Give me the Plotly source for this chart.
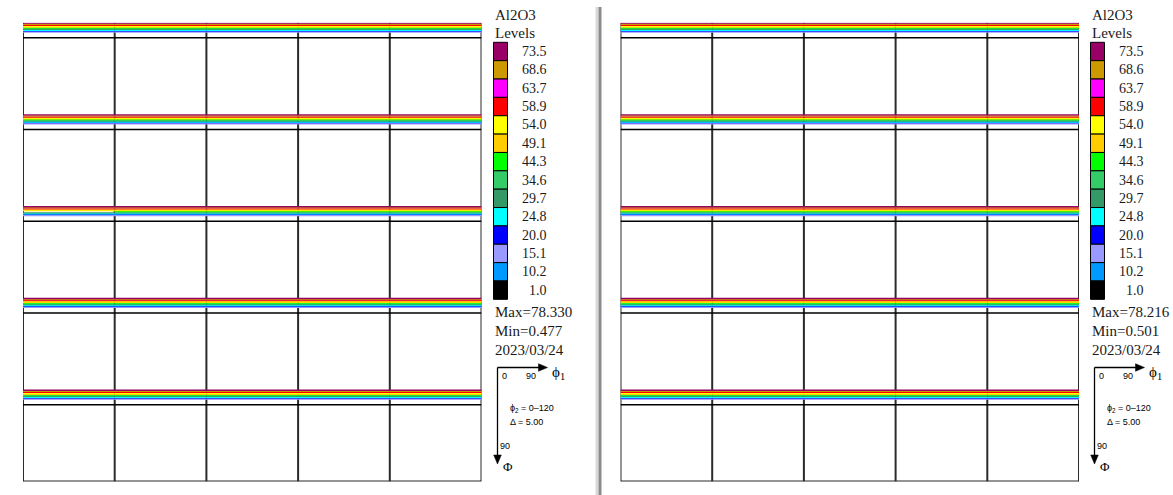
import plotly.graph_objects as go

W, H = 1173, 495

# ODF contour levels (legend order, highest first) and their colours
levels = [73.5, 68.6, 63.7, 58.9, 54.0, 49.1, 44.3, 34.6, 29.7, 24.8, 20.0, 15.1, 10.2, 1.0]
level_colors = ["#990066", "#CC9900", "#FF00FF", "#FF0000", "#FFFF00", "#FFCC00", "#00FF00",
                "#33CC66", "#339966", "#00FFFF", "#0000FF", "#9999FF", "#0099FF", "#000000"]

# Phi (deg) of each level's iso-line inside a section (same order as levels)
contour_phi = [0.5, 1.5, 1.6, 2.6, 3.6, 4.4, 5.1, 5.8, 6.5, 7.4, 7.9, 9.1, 8.6, 14.8]

# phi2 sections: 0-120 in steps of 5 -> 25 sections laid out 5 x 5
phi2_sections = list(range(0, 125, 5))
n_cols = 5
phi1_span = 90.0
Phi_span = 90.0

# levels that do not appear in a given section (panel index, phi2) -> level values
absent_levels = {(0, 50): [44.3, 34.6]}

panel_titles = ["Al2O3", "Al2O3"]
panel_max = ["Max=78.330", "Max=78.216"]
panel_min = ["Min=0.477", "Min=0.501"]
panel_date = ["2023/03/24", "2023/03/24"]


def px(x):
    return x / W


def py(y):
    return 1 - y / H


def ppath(points):
    return "M " + " L ".join(f"{px(a):.6f},{py(b):.6f}" for a, b in points) + " Z"


fig = go.Figure()
shapes = []
annotations = []

serif = "Liberation Serif"
sans = "Liberation Sans"

for p in range(2):
    dx = 597 * p
    xa = "x" if p == 0 else "x2"
    ya = "y" if p == 0 else "y2"
    n_rows = len(phi2_sections) // n_cols
    total_w = n_cols * phi1_span
    total_h = n_rows * Phi_span

    # contour iso-lines, one trace per level
    for li in reversed(range(len(levels))):
        xs, ys = [], []
        for k, phi2 in enumerate(phi2_sections):
            if levels[li] in absent_levels.get((p, phi2), []):
                continue
            c, r = k % n_cols, k // n_cols
            yv = r * Phi_span + contour_phi[li]
            xs += [c * phi1_span, (c + 1) * phi1_span, None]
            ys += [yv, yv, None]
        fig.add_trace(go.Scatter(
            x=xs, y=ys, mode="lines", xaxis=xa, yaxis=ya,
            line=dict(color=level_colors[li], width=1.5 if levels[li] == 1.0 else 1.3),
            hoverinfo="skip", showlegend=False))

    # section frames (section tops are covered by the highest iso-line)
    for c in range(n_cols + 1):
        shapes.append(dict(type="line", xref=xa, yref=ya, x0=c * phi1_span, x1=c * phi1_span,
                           y0=0, y1=total_h, line=dict(color="#2b2b2b", width=2), layer="below"))
    shapes.append(dict(type="line", xref=xa, yref=ya, x0=0, x1=total_w, y0=total_h, y1=total_h,
                       line=dict(color="#2b2b2b", width=2), layer="below"))

    # level legend
    box_top, box_h = 42.3, 18.36
    for i, (lv, col) in enumerate(zip(levels, level_colors)):
        y0 = box_top + i * box_h
        shapes.append(dict(type="rect", xref="paper", yref="paper",
                           x0=px(493.5 + dx), x1=px(507.5 + dx), y0=py(y0), y1=py(y0 + box_h),
                           fillcolor=col, line=dict(color="black", width=1)))
        annotations.append(dict(xref="paper", yref="paper", x=px(549 + dx), y=py(y0 + box_h / 2),
                                text=f"{lv:.1f}", showarrow=False, xanchor="right", yanchor="middle",
                                font=dict(family=serif, size=14, color="#1a1a1a")))

    for txt, yc in [(panel_titles[p], 15), ("Levels", 33), (panel_max[p], 312),
                    (panel_min[p], 331), (panel_date[p], 350)]:
        annotations.append(dict(xref="paper", yref="paper", x=px(493 + dx), y=py(yc),
                                text=txt, showarrow=False, xanchor="left", yanchor="middle",
                                font=dict(family=serif, size=15, color="#1a1a1a")))

    # orientation key: phi1 to the right, Phi downwards
    ox, oy = 497.5 + dx, 367.5
    shapes.append(dict(type="line", xref="paper", yref="paper", x0=px(ox), x1=px(ox + 44),
                       y0=py(oy), y1=py(oy), line=dict(color="black", width=1.3)))
    shapes.append(dict(type="path", xref="paper", yref="paper",
                       path=ppath([(ox + 50, oy), (ox + 41, oy - 3.8), (ox + 41, oy + 3.8)]),
                       fillcolor="black", line=dict(color="black", width=0.5)))
    shapes.append(dict(type="line", xref="paper", yref="paper", x0=px(ox), x1=px(ox),
                       y0=py(oy), y1=py(458), line=dict(color="black", width=1.3)))
    shapes.append(dict(type="path", xref="paper", yref="paper",
                       path=ppath([(ox, 464), (ox - 3.8, 455), (ox + 3.8, 455)]),
                       fillcolor="black", line=dict(color="black", width=0.5)))
    small = [("0", 504, 376), ("90", 531, 376), ("90", 505, 446)]
    for txt, xc, yc in small:
        annotations.append(dict(xref="paper", yref="paper", x=px(xc + dx), y=py(yc), text=txt,
                                showarrow=False, xanchor="center", yanchor="middle",
                                font=dict(family=sans, size=9, color="black")))
    annotations.append(dict(xref="paper", yref="paper", x=px(550 + dx), y=py(373),
                            text="ϕ<sub>1</sub>", showarrow=False, xanchor="left", yanchor="middle",
                            font=dict(family=serif, size=15, color="black")))
    annotations.append(dict(xref="paper", yref="paper", x=px(501 + dx), y=py(466),
                            text="Φ", showarrow=False, xanchor="left", yanchor="middle",
                            font=dict(family=serif, size=13, color="black")))
    annotations.append(dict(xref="paper", yref="paper", x=px(508 + dx), y=py(408),
                            text="ϕ<sub>2</sub> = 0–120", showarrow=False, xanchor="left",
                            yanchor="middle", font=dict(family=sans, size=9, color="black")))
    annotations.append(dict(xref="paper", yref="paper", x=px(508 + dx), y=py(422),
                            text="Δ = 5.00", showarrow=False, xanchor="left",
                            yanchor="middle", font=dict(family=sans, size=9, color="black")))

# window separator between the two plots
shapes.append(dict(type="rect", xref="paper", yref="paper", x0=px(595.5), x1=px(598.5),
                   y0=py(495), y1=py(7), fillcolor="#d9d9d9", line=dict(width=0)))
shapes.append(dict(type="rect", xref="paper", yref="paper", x0=px(598.5), x1=px(601.5),
                   y0=py(495), y1=py(7), fillcolor="#8c8c8c", line=dict(width=0)))

axis_common = dict(showgrid=False, zeroline=False, showticklabels=False, ticks="",
                   showline=False, fixedrange=True)
fig.update_layout(
    width=W, height=H, margin=dict(l=0, r=0, t=0, b=0),
    paper_bgcolor="white", plot_bgcolor="white",
    xaxis=dict(domain=[px(23), px(481.5)], range=[0, 450], **axis_common),
    yaxis=dict(domain=[py(481.5), py(22.7)], range=[450, 0], **axis_common),
    xaxis2=dict(domain=[px(620.5), px(1079)], range=[0, 450], anchor="y2", **axis_common),
    yaxis2=dict(domain=[py(481.5), py(22.7)], range=[450, 0], anchor="x2", **axis_common),
    shapes=shapes, annotations=annotations, showlegend=False,
)

fig.write_html("out.html")
